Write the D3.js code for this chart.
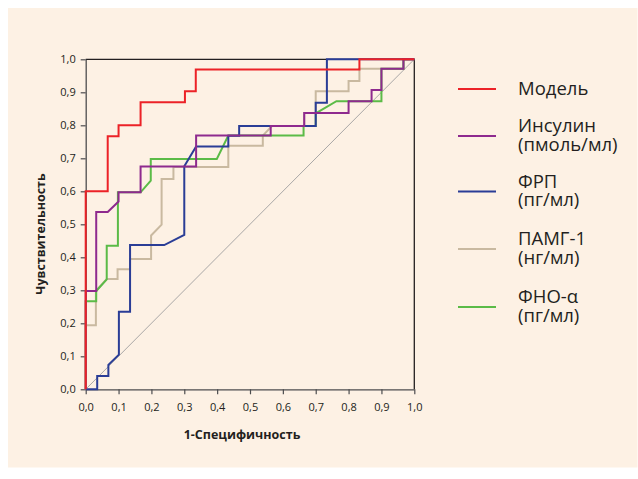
<!DOCTYPE html>
<html><head><meta charset="utf-8">
<script src="https://cdn.jsdelivr.net/npm/d3@7"></script>
<style>
html,body{margin:0;padding:0;background:#fff;}
svg{display:block;}
</style></head>
<body>
<svg id="chart" width="638" height="479"></svg>
<script>
// ---- data (1-specificity, sensitivity) ----
const modelPts = [[0,0],[0,0.6],[0.067,0.6],[0.067,0.767],[0.1,0.767],[0.1,0.8],[0.167,0.8],[0.167,0.87],[0.302,0.87],[0.302,0.903],[0.335,0.903],[0.335,0.969],[0.833,0.969],[0.833,1],[1,1]];
const insulinPts = [[0,0],[0,0.298],[0.032,0.298],[0.032,0.537],[0.067,0.537],[0.1,0.569],[0.1,0.597],[0.167,0.597],[0.167,0.675],[0.336,0.675],[0.336,0.769],[0.563,0.769],[0.563,0.798],[0.665,0.798],[0.665,0.837],[0.8,0.837],[0.8,0.873],[0.87,0.873],[0.87,0.907],[0.9,0.907],[0.9,0.971],[0.967,0.971],[0.967,1],[1,1]];
const frpPts = [[0,0],[0.035,0],[0.035,0.04],[0.069,0.04],[0.069,0.074],[0.101,0.105],[0.101,0.235],[0.135,0.235],[0.135,0.437],[0.239,0.437],[0.3,0.468],[0.3,0.676],[0.336,0.736],[0.434,0.736],[0.434,0.768],[0.467,0.768],[0.467,0.798],[0.7,0.798],[0.7,0.868],[0.734,0.868],[0.734,1],[1,1]];
const pamgPts = [[0,0],[0,0.194],[0.031,0.194],[0.031,0.298],[0.064,0.334],[0.097,0.334],[0.097,0.364],[0.135,0.364],[0.135,0.395],[0.199,0.395],[0.199,0.466],[0.231,0.499],[0.231,0.637],[0.267,0.637],[0.267,0.674],[0.434,0.674],[0.434,0.738],[0.539,0.738],[0.539,0.769],[0.567,0.798],[0.665,0.798],[0.665,0.837],[0.7,0.837],[0.7,0.903],[0.8,0.903],[0.8,0.934],[0.833,0.934],[0.833,0.971],[0.967,0.971],[0.967,1],[1,1]];
const tnfPts = [[0,0],[0,0.267],[0.032,0.267],[0.032,0.298],[0.064,0.333],[0.064,0.435],[0.098,0.435],[0.098,0.597],[0.167,0.597],[0.198,0.632],[0.198,0.698],[0.399,0.698],[0.434,0.769],[0.663,0.769],[0.663,0.798],[0.7,0.798],[0.7,0.836],[0.763,0.873],[0.9,0.873],[0.9,0.971],[0.967,0.971],[0.967,1],[1,1]];

const seriesNames = ["Модель","Инсулин","ФРП","ПАМГ-1","ФНО-α"];
const seriesUnits = ["","(пмоль/мл)","(пг/мл)","(нг/мл)","(пг/мл)"];
const seriesColors = ["#ec2227","#8e2a8e","#2a3d96","#c9b9a0","#5bbb47"];
const seriesData = [modelPts, insulinPts, frpPts, pamgPts, tnfPts];
const tickValues = [0,0.1,0.2,0.3,0.4,0.5,0.6,0.7,0.8,0.9,1.0];
const xTitle = "1-Специфичность";
const yTitle = "Чувствительность";

const svg = d3.select("#chart");
svg.append("rect").attr("x",8).attr("y",8).attr("width",629.5).attr("height",459.5).attr("fill","#fdf1e4");

const x = d3.scaleLinear().domain([0,1]).range([85.7,414.3]);
const y = d3.scaleLinear().domain([0,1]).range([389.3,59.3]);
const fmt = d => d3.format(".1f")(d).replace(".",",");

// diagonal
svg.append("line").attr("x1",x(0)).attr("y1",y(0)).attr("x2",x(1)).attr("y2",y(1))
  .attr("stroke","#a9a7a6").attr("stroke-width",1);

// frame top/right
svg.append("path").attr("d",`M${x(0)},${y(1)}H${x(1)}V${y(0)}`).attr("fill","none").attr("stroke","#231f20").attr("stroke-width",1.3);

const xAxis = svg.append("g").attr("transform",`translate(0,${y(0)})`)
  .call(d3.axisBottom(x).tickValues(tickValues).tickFormat(fmt).tickSize(5).tickSizeOuter(0));
const yAxis = svg.append("g").attr("transform",`translate(${x(0)},0)`)
  .call(d3.axisLeft(y).tickValues(tickValues).tickFormat(fmt).tickSize(5).tickSizeOuter(0));
[xAxis,yAxis].forEach(a=>{
  a.select(".domain").attr("stroke","#4d4d4f").attr("stroke-width",1.3);
  a.selectAll(".tick line").attr("stroke","#4d4d4f").attr("stroke-width",1.2);
  a.selectAll(".tick text").attr("font-family","Open Sans, sans-serif").attr("font-size",11).attr("fill","#231f20");
});
xAxis.selectAll(".tick text").attr("dy","0.71em").attr("y",14);
yAxis.selectAll(".tick text").attr("x",-10);

// curves
const line = d3.line().x(d=>x(d[0])).y(d=>y(d[1]));
const drawOrder = [3,4,2,1,0];
drawOrder.forEach(i=>{
  svg.append("path").datum(seriesData[i]).attr("d",line)
    .attr("fill","none").attr("stroke",seriesColors[i]).attr("stroke-width",2)
    .attr("stroke-linejoin","miter");
});

// axis titles
svg.append("text").attr("x",242).attr("y",439).attr("text-anchor","middle")
  .attr("font-family","Open Sans, sans-serif").attr("font-weight","bold").attr("font-size",12.5)
  .attr("fill","#231f20").text(xTitle);
svg.append("text").attr("transform","translate(44.5,234) rotate(-90)").attr("text-anchor","middle")
  .attr("font-family","Open Sans, sans-serif").attr("font-weight","bold").attr("font-size",12.5)
  .attr("fill","#231f20").text(yTitle);

// legend
const legY = [89,136,191.5,249,307];
const leg = svg.append("g");
seriesNames.forEach((n,i)=>{
  leg.append("line").attr("x1",458).attr("x2",496).attr("y1",legY[i]).attr("y2",legY[i])
    .attr("stroke",seriesColors[i]).attr("stroke-width",2.2);
  const t = leg.append("text").attr("font-family","Open Sans, sans-serif").attr("font-size",18.5).attr("fill","#231f20");
  if(seriesUnits[i]===""){
    t.append("tspan").attr("x",518).attr("y",legY[i]+6).text(n);
  } else {
    t.append("tspan").attr("x",518).attr("y",legY[i]-4).text(n);
    t.append("tspan").attr("x",518).attr("y",legY[i]+14.5).text(seriesUnits[i]);
  }
});
</script>
</body></html>
